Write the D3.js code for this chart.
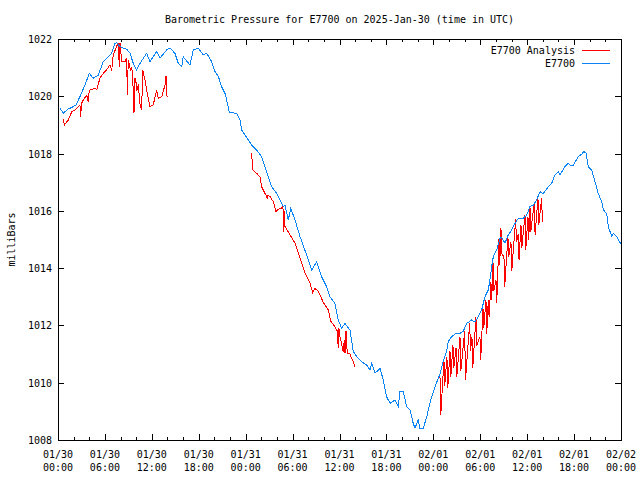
<!DOCTYPE html>
<html><head><meta charset="utf-8">
<script src="https://cdn.jsdelivr.net/npm/d3@7/dist/d3.min.js"></script>
<style>body{margin:0;background:#fff}text{font-family:"DejaVu Sans Mono",monospace;font-size:10px;fill:#000}</style>
</head><body>
<svg id="c" width="640" height="480"></svg>
<script>
const title = "Barometric Pressure for E7700 on 2025-Jan-30 (time in UTC)";
const yLabel = "milliBars";
const seriesNames = ["E7700 Analysis", "E7700"];
const seriesColors = ["#ff0000", "#0a84f5"];
const xTickHours = [0, 6, 12, 18, 24, 30, 36, 42, 48, 54, 60, 66, 72];
const xTickDates = ["01/30","01/30","01/30","01/30","01/31","01/31","01/31","01/31","02/01","02/01","02/01","02/01","02/02"];
const xTickTimes = ["00:00","06:00","12:00","18:00","00:00","06:00","12:00","18:00","00:00","06:00","12:00","18:00","00:00"];
const yTicks = [1008, 1010, 1012, 1014, 1016, 1018, 1020, 1022];

// E7700 station: [hours since 2025-01-30 00:00 UTC, mb]
const station = [
[0.26,1019.58],[0.68,1019.41],[1.28,1019.55],[1.96,1019.64],[2.30,1019.70],[2.81,1019.99],[3.45,1020.39],[4.00,1020.80],
[4.51,1020.63],[5.15,1020.74],[5.79,1021.21],[6.43,1021.38],[6.87,1021.50],[7.29,1021.85],[7.51,1021.87],[7.93,1021.73],
[8.79,1021.64],[9.21,1021.50],[9.63,1021.15],[10.06,1020.92],[10.49,1021.15],[11.34,1021.50],[11.76,1021.21],[12.62,1021.56],
[13.04,1021.33],[13.90,1021.62],[14.32,1021.68],[14.96,1021.50],[15.38,1021.15],[15.82,1021.03],[16.02,1021.38],[16.88,1021.09],
[17.30,1021.62],[17.94,1021.68],[18.58,1021.44],[19.02,1021.50],[19.65,1021.21],[20.08,1020.86],[20.50,1020.70],[20.93,1020.33],
[21.36,1020.10],[21.57,1019.87],[21.91,1019.43],[22.85,1019.41],[23.27,1019.17],[23.49,1018.82],[23.91,1018.65],[24.34,1018.47],
[24.77,1018.30],[25.41,1018.12],[26.05,1017.89],[26.47,1017.54],[26.89,1017.19],[27.33,1016.84],[27.97,1016.61],[28.39,1016.38],
[28.81,1016.15],[29.03,1016.20],[29.45,1015.68],[29.76,1016.09],[30.31,1015.68],[30.95,1015.10],[31.80,1014.46],[32.44,1013.93],
[33.08,1014.22],[33.72,1013.70],[34.36,1013.35],[34.78,1013.00],[35.42,1012.77],[35.84,1012.19],[36.28,1011.90],[36.70,1012.07],
[37.34,1011.84],[37.76,1011.10],[38.20,1010.91],[38.84,1010.73],[39.48,1010.62],[39.90,1010.44],[40.11,1010.68],[40.54,1010.33],
[41.18,1010.50],[41.60,1010.09],[42.03,1009.51],[42.46,1009.28],[43.09,1009.39],[43.52,1009.16],[43.73,1009.68],[44.16,1009.68],
[44.59,1009.16],[45.01,1009.05],[45.43,1008.58],[45.65,1008.41],[46.07,1008.70],[46.29,1008.41],[46.71,1008.41],[47.15,1008.80],
[47.57,1009.30],[48.21,1009.86],[48.85,1010.30],[49.27,1010.75],[49.71,1011.10],[49.91,1011.43],[50.34,1011.61],[50.77,1011.70],
[51.41,1011.72],[51.83,1011.80],[52.26,1012.07],[52.90,1012.19],[53.32,1012.12],[53.75,1012.30],[54.18,1012.54],[54.60,1013.00],
[55.03,1013.24],[55.24,1013.59],[55.46,1014.05],[55.67,1014.40],[56.10,1014.63],[56.52,1015.04],[56.74,1015.08],[57.16,1014.87],
[57.58,1015.16],[58.02,1015.33],[58.44,1015.56],[58.86,1015.74],[59.50,1015.74],[59.94,1015.85],[60.36,1016.15],[60.78,1016.20],
[61.21,1016.38],[61.64,1016.67],[62.06,1016.60],[62.70,1016.84],[63.13,1016.96],[63.55,1017.25],[63.98,1017.37],[64.19,1017.25],
[64.83,1017.54],[65.26,1017.66],[65.47,1017.60],[65.90,1017.60],[66.54,1017.89],[66.97,1017.98],[67.26,1018.07],[67.52,1018.02],
[67.81,1017.54],[68.25,1017.43],[68.67,1017.02],[69.09,1016.61],[69.53,1016.32],[69.74,1016.03],[70.17,1015.91],[70.38,1015.45],
[70.82,1015.10],[71.02,1015.22],[71.45,1015.10],[71.78,1014.92],[72.00,1014.85]
];

// E7700 Analysis, three separate runs
const analysisRun1 = [
[0.68,1019.20],[0.83,1019.00],[0.96,1019.05],[1.32,1019.17],[1.75,1019.46],[2.17,1019.52],[2.60,1019.64],[2.81,1019.70],
[2.90,1019.29],[3.01,1019.75],[3.24,1019.87],[3.67,1020.04],[3.87,1019.82],[3.96,1020.10],[4.09,1020.22],[4.73,1020.28],
[4.95,1020.22],[5.37,1020.64],[5.79,1020.80],[6.23,1020.93],[6.65,1021.10],[6.87,1020.90],[7.07,1021.45],[7.51,1021.75],
[7.71,1021.86],[7.84,1021.03],[7.93,1021.85],[8.15,1021.22],[8.57,1021.20],[8.79,1021.34],[8.86,1020.06],[8.99,1021.28],
[9.30,1020.87],[9.42,1021.03],[9.53,1020.80],[9.72,1019.42],[9.85,1020.64],[10.04,1020.40],[10.10,1020.20],[10.27,1020.41],
[10.49,1019.71],[10.70,1019.53],[10.83,1020.92],[11.13,1020.57],[11.42,1020.10],[11.76,1019.64],[12.18,1019.70],[12.62,1020.22],
[12.83,1019.93],[13.26,1019.98],[13.68,1020.39],[13.81,1020.71],[13.90,1020.04],[14.03,1019.98]
];
const analysisRun2 = [
[24.77,1018.01],[24.90,1017.43],[25.41,1017.31],[25.83,1017.19],[26.05,1016.84],[26.47,1016.61],[26.69,1016.50],[26.76,1016.40],
[26.85,1016.55],[27.11,1016.50],[27.53,1016.32],[27.88,1015.97],[28.13,1016.05],[28.61,1016.09],[28.77,1016.25],[28.81,1015.27],
[28.90,1016.00],[29.03,1015.45],[29.67,1015.16],[30.31,1014.87],[30.73,1014.52],[31.16,1014.17],[31.59,1013.82],[32.23,1013.47],
[32.57,1013.15],[32.86,1013.29],[33.29,1013.20],[33.93,1012.80],[34.57,1012.54],[34.87,1012.15],[35.42,1011.95],[35.72,1011.80],
[35.84,1011.22],[35.93,1011.90],[36.06,1011.61],[36.48,1011.08],[36.62,1011.50],[36.70,1011.03],[36.83,1011.80],[36.99,1011.03],
[37.34,1011.00],[37.55,1010.85],[37.84,1010.68],[37.98,1010.56]
];
const analysisRun3 = [
[48.85,1010.21],[48.95,1008.87],
[49.36,1010.80],[49.46,1009.90],[49.74,1010.90],[49.84,1009.80],[50.13,1011.10],[50.23,1010.20],[50.51,1011.30],[50.61,1010.50],
[50.90,1011.20],[51.00,1010.20],[51.41,1011.60],[51.51,1010.40],[52.01,1011.80],[52.11,1010.10],[52.65,1012.10],[52.75,1011.10],
[52.94,1011.60],[53.04,1010.50],[53.45,1012.30],[53.55,1011.30],[53.96,1011.60],[54.06,1010.80],[54.35,1012.60],[54.45,1011.90],
[54.73,1012.90],[54.83,1011.70],[55.03,1012.90],[55.13,1012.30],[55.37,1013.50],[55.47,1012.90],[55.63,1014.20],[55.73,1013.20],
[56.01,1013.60],[56.11,1012.80],[56.39,1015.00],[56.49,1014.10],[56.65,1015.40],[56.75,1014.50],[57.03,1014.40],[57.13,1013.35],
[57.54,1015.10],[57.64,1014.40],[57.93,1014.90],[58.03,1013.90],[58.53,1015.70],[58.63,1014.90],[58.86,1015.20],[58.96,1014.30],
[59.21,1015.50],[59.31,1014.70],[59.72,1015.85],[59.82,1014.63],[60.10,1015.80],[60.20,1015.00],[60.36,1016.15],[60.46,1015.27],
[60.91,1016.32],[61.01,1015.16],[61.38,1016.44],[61.48,1015.50],[61.85,1016.44],[61.95,1015.62]
];

const W = 640, H = 480;
const L = 58, R = 621, T = 39, B = 440;
const svg = d3.select("#c");
const x = d3.scaleLinear().domain([0, 72]).range([L, R]);
const y = d3.scaleLinear().domain([1008, 1022]).range([B, T]);

svg.append("rect").attr("width", W).attr("height", H).attr("fill", "#fff");

// ticks
const tickG = svg.append("g").attr("stroke", "#000").attr("stroke-width", 1).attr("shape-rendering", "crispEdges");
const minorHours = d3.range(0, 73, 2).filter(h => h % 6 !== 0);
xTickHours.forEach(h => {
  const px = Math.round(x(h)) + 0.5;
  tickG.append("line").attr("x1", px).attr("x2", px).attr("y1", B).attr("y2", B - 6);
  tickG.append("line").attr("x1", px).attr("x2", px).attr("y1", T).attr("y2", T + 6);
});
minorHours.forEach(h => {
  const px = Math.round(x(h)) + 0.5;
  tickG.append("line").attr("x1", px).attr("x2", px).attr("y1", B).attr("y2", B - 3);
  tickG.append("line").attr("x1", px).attr("x2", px).attr("y1", T).attr("y2", T + 3);
});
yTicks.forEach(v => {
  const py = Math.round(y(v)) + 0.5;
  tickG.append("line").attr("x1", L).attr("x2", L + 6).attr("y1", py).attr("y2", py);
  tickG.append("line").attr("x1", R).attr("x2", R - 6).attr("y1", py).attr("y2", py);
});

// border
svg.append("rect").attr("x", L + 0.5).attr("y", T + 0.5).attr("width", R - L).attr("height", B - T)
  .attr("fill", "none").attr("stroke", "#000").attr("shape-rendering", "crispEdges");

// tick labels
yTicks.forEach(v => {
  svg.append("text").attr("x", 52).attr("y", y(v) + 4).attr("text-anchor", "end").text(v);
});
xTickHours.forEach((h, i) => {
  svg.append("text").attr("x", x(h)).attr("y", 458).attr("text-anchor", "middle").text(xTickDates[i]);
  svg.append("text").attr("x", x(h)).attr("y", 471).attr("text-anchor", "middle").text(xTickTimes[i]);
});

// title & axis label
svg.append("text").attr("x", (L + R) / 2).attr("y", 23).attr("text-anchor", "middle").text(title);
svg.append("text").attr("transform", `translate(15,${(T + B) / 2}) rotate(-90)`).attr("text-anchor", "middle").text(yLabel);

// lines
const line = d3.line().x(d => x(d[0])).y(d => y(d[1]));
const lg = svg.append("g").attr("fill", "none").attr("stroke-width", 1).attr("shape-rendering", "crispEdges");
[analysisRun1, analysisRun2, analysisRun3].forEach(run => {
  lg.append("path").attr("d", line(run)).attr("stroke", seriesColors[0]);
});
lg.append("path").attr("d", line(station)).attr("stroke", seriesColors[1]);

// legend
seriesNames.forEach((name, i) => {
  const ly = 50 + i * 13;
  svg.append("text").attr("x", 575).attr("y", ly + 4).attr("text-anchor", "end").text(name);
  svg.append("line").attr("x1", 582).attr("x2", 610).attr("y1", ly + 0.5).attr("y2", ly + 0.5)
    .attr("stroke", seriesColors[i]).attr("shape-rendering", "crispEdges");
});
</script>
</body></html>
